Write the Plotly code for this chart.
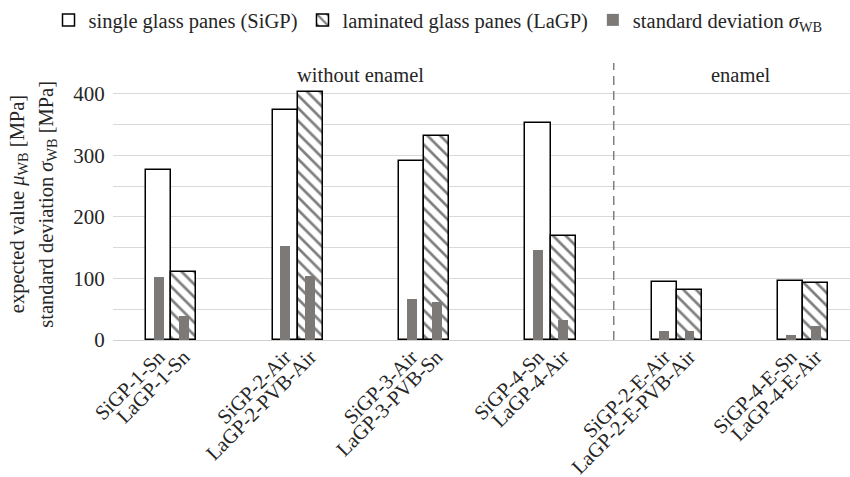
import plotly.graph_objects as go

# ---- data ----
sigp_labels = ["SiGP-1-Sn", "SiGP-2-Air", "SiGP-3-Air", "SiGP-4-Sn", "SiGP-2-E-Air", "SiGP-4-E-Sn"]
lagp_labels = ["LaGP-1-Sn", "LaGP-2-PVB-Air", "LaGP-3-PVB-Sn", "LaGP-4-Air", "LaGP-2-E-PVB-Air", "LaGP-4-E-Air"]
sigp_mean = [276, 374, 291, 352, 95, 96]
lagp_mean = [110, 403, 331, 169, 81, 93]
sigp_std = [102, 152, 67, 146, 15, 8]
lagp_std = [39, 104, 61, 32, 15, 23]
group_titles = ["without enamel", "enamel"]
y_title_lines = ["expected value <i>μ</i><sub>WB</sub> [MPa]",
                 "standard deviation <i>σ</i><sub>WB</sub> [MPa]"]

# ---- layout helpers ----
FONT = "Liberation Serif"
TXT = "#262626"
bw = 0.198
sw = 0.078
idx = list(range(len(sigp_labels)))
x_si = [i - bw / 2 for i in idx]
x_la = [i + bw / 2 for i in idx]

fig = go.Figure()
fig.add_trace(go.Bar(
    x=x_si, y=sigp_mean, width=bw, name="single glass panes (SiGP)",
    marker=dict(color="white", line=dict(color="black", width=1.5)),
))
fig.add_trace(go.Bar(
    x=x_la, y=lagp_mean, width=bw, name="laminated glass panes (LaGP)",
    marker=dict(color="white", line=dict(color="black", width=1.5),
                pattern=dict(shape="\\", fgcolor="black", bgcolor="white", size=9, solidity=0.3)),
))
fig.add_trace(go.Bar(
    x=x_si + x_la, y=sigp_std + lagp_std, width=sw,
    name="standard deviation <i>σ</i><sub>WB</sub>",
    marker=dict(color="#7d7977", line=dict(width=0)),
))

fig.add_shape(type="line", x0=3.5, x1=3.5, y0=0, y1=450, xref="x", yref="y",
              line=dict(color="#7f7f7f", width=1.5, dash="9px,6px"))
for xc, t in zip([1.5, 4.5], group_titles):
    fig.add_annotation(x=xc, y=431, text=t, showarrow=False, xref="x", yref="y",
                       font=dict(family=FONT, size=20.5, color=TXT))
for xp, t in zip([-0.1290, -0.0890], y_title_lines):
    fig.add_annotation(x=xp, y=0.49, xref="paper", yref="paper", text=t,
                       textangle=-90, showarrow=False, xanchor="center", yanchor="middle",
                       font=dict(family=FONT, size=20.5, color=TXT))

fig.update_layout(
    width=850, height=477,
    margin=dict(l=113, r=0, t=61, b=137),
    paper_bgcolor="white", plot_bgcolor="white",
    barmode="overlay", bargap=0,
    font=dict(family=FONT, size=20, color=TXT),
    legend=dict(orientation="h", x=-0.0875, xanchor="left", y=1.155, yanchor="middle",
                font=dict(family=FONT, size=20.5, color=TXT),
                itemwidth=30, traceorder="normal", borderwidth=0),
    showlegend=True,
)
fig.update_xaxes(
    range=[-0.461, 5.369], tickmode="array",
    tickvals=x_si + x_la, ticktext=sigp_labels + lagp_labels,
    tickangle=-45, showgrid=False, zeroline=False, showline=False,
    ticks="", automargin=False,
    tickfont=dict(family=FONT, size=20.5, color=TXT),
)
fig.update_yaxes(
    range=[0, 450], dtick=100, showgrid=True, gridcolor="#d9d9d9", gridwidth=1.2,
    minor=dict(dtick=50, showgrid=True, gridcolor="#d9d9d9", gridwidth=1.2),
    zeroline=True, zerolinecolor="#d0d0d0", zerolinewidth=1.2, showline=False,
    ticks="outside", ticklen=3, tickcolor="rgba(0,0,0,0)", automargin=False,
    tickfont=dict(family=FONT, size=21, color=TXT),
)

fig.write_html("out.html", config={"displayModeBar": False},
               post_script="document.body.style.margin='0px';")
